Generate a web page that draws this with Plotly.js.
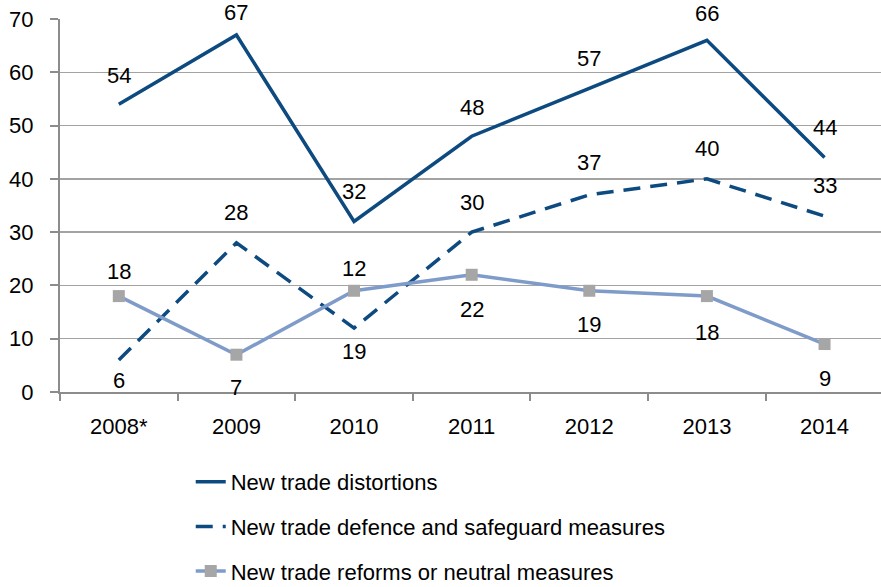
<!DOCTYPE html>
<html>
<head>
<meta charset="utf-8">
<script src="https://cdn.plot.ly/plotly-3.0.1.min.js"></script>
<style>html,body{margin:0;padding:0;background:#fff;}#chart{width:881px;height:587px;}</style>
</head>
<body>
<div id="chart"></div>
<script>
// ---- data ----
var years = ['2008*', '2009', '2010', '2011', '2012', '2013', '2014'];
var distortions = [54, 67, 32, 48, 57, 66, 44];
var defence = [6, 28, 12, 30, 37, 40, 33];
var reforms = [18, 7, 19, 22, 19, 18, 9];
var seriesNames = ['New trade distortions', 'New trade defence and safeguard measures', 'New trade reforms or neutral measures'];
var yTicks = [0, 10, 20, 30, 40, 50, 60, 70];

// ---- label placement (pixels, up positive) ----
var distShift = [29, 22, 30, 29, 30, 27, 30];
var defShift = [-20, 30, 60, 30, 32, 30, 31];
var refShift = [25, -33, -61, -35, -34, -36, -34];

var navy = '#0d4a80';
var light = '#7f9bc9';
var font = 'Liberation Sans, Arial, sans-serif';

var traces = [
  {x: years, y: distortions, name: seriesNames[0], type: 'scatter', mode: 'lines',
   line: {color: navy, width: 3.5}, legendgroup: 'a'},
  {x: years, y: defence, name: seriesNames[1], type: 'scatter', mode: 'lines',
   line: {color: navy, width: 3.5, dash: '17px,10px'}, legendgroup: 'b'},
  {x: years, y: reforms, name: seriesNames[2], type: 'scatter', mode: 'lines+markers',
   line: {color: light, width: 3.5},
   marker: {symbol: 'square', size: 12, color: '#a6a6a6'}, legendgroup: 'c'}
];

var annotations = [];
function addLabels(vals, shifts) {
  for (var i = 0; i < vals.length; i++) {
    annotations.push({x: i, y: vals[i], xref: 'x', yref: 'y', text: String(vals[i]),
      showarrow: false, yshift: shifts[i], font: {family: font, size: 22, color: '#000'}});
  }
}
addLabels(distortions, distShift);
addLabels(defence, defShift);
addLabels(reforms, refShift);

var layout = {
  width: 881, height: 587,
  margin: {l: 60, r: 0, t: 19, b: 195, autoexpand: false},
  paper_bgcolor: '#fff', plot_bgcolor: '#fff',
  font: {family: font, size: 22, color: '#000'},
  showlegend: true,
  legend: {xref: 'container', yref: 'container', x: 0.2165, y: 1 - 461/587, xanchor: 'left', yanchor: 'top',
    font: {family: font, size: 22, color: '#000'}, tracegroupgap: 13, bgcolor: 'rgba(0,0,0,0)'},
  xaxis: {type: 'category', range: [-0.5, 6.48], showgrid: false, showline: true, linecolor: '#8c8c8c', linewidth: 2,
    ticks: 'outside', tickson: 'boundaries', ticklen: 7, tickcolor: '#8c8c8c', tickwidth: 2, tickangle: 0,
    ticklabelstandoff: 14,
    tickfont: {family: font, size: 22, color: '#000'}, zeroline: false, fixedrange: true},
  yaxis: {range: [0, 70], tickvals: yTicks, showgrid: true, gridcolor: '#a3a3a3', gridwidth: 1.5,
    showline: true, linecolor: '#8c8c8c', linewidth: 2, ticks: 'outside', ticklen: 8, tickcolor: '#8c8c8c', tickwidth: 2,
    ticklabelstandoff: 12,
    tickfont: {family: font, size: 22, color: '#000'}, zeroline: false, fixedrange: true},
  annotations: annotations
};

Plotly.newPlot('chart', traces, layout, {displayModeBar: false, staticPlot: true});
</script>
</body>
</html>
